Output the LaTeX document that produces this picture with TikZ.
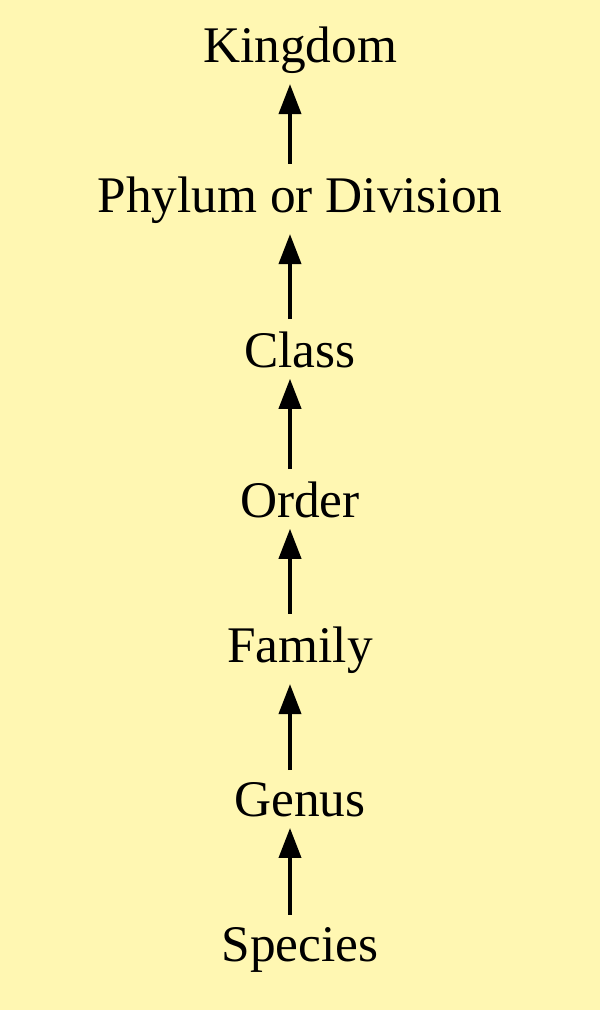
\documentclass[tikz,border=0pt]{standalone}
\usepackage{fontspec}
\setmainfont{Liberation Serif}
\usetikzlibrary{positioning,arrows.meta}
\definecolor{paleyellow}{RGB}{255,247,178}
\begin{document}
\begin{tikzpicture}[x=0.01cm,y=-0.01cm,
    rank/.style={font=\fontsize{14.6}{17}\selectfont, inner sep=0pt},
    up/.style={-{Triangle[length=3mm,width=2.2mm]}, line width=1.1pt, shorten <=1.2mm, shorten >=1mm}]
    % background
    \fill[paleyellow] (0,0) rectangle (600,1010);
    \useasboundingbox (0,0) rectangle (600,1010);
    % ranks
    \node[rank] (kingdom) at (300,50) {Kingdom};
    \node[rank] (phylum)  at (300,200) {Phylum or Division};
    \node[rank] (class)   at (300,350) {Class};
    \node[rank] (order)   at (300,500) {Order};
    \node[rank] (family)  at (300,650) {Family};
    \node[rank] (genus)   at (300,800) {Genus};
    \node[rank] (species) at (300,950) {Species};
    % arrows
    \foreach \a/\b in {species/genus, genus/family, family/order, order/class, class/phylum, phylum/kingdom}
        \draw[up] ([xshift=-1mm]\a.north) -- ([xshift=-1mm]\b.south);
\end{tikzpicture}
\end{document}
